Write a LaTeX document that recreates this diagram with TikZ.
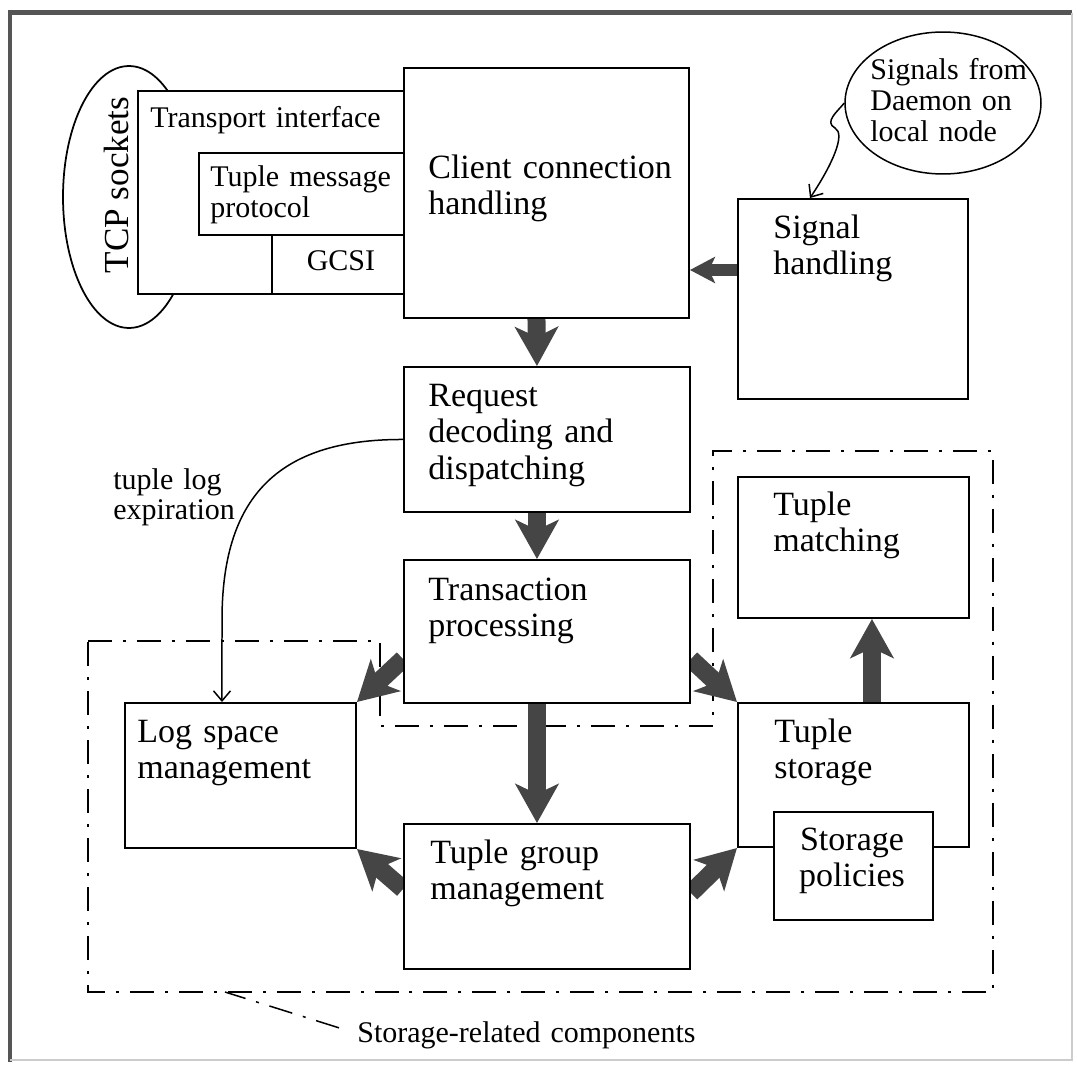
\documentclass[tikz,border=0pt]{standalone}
\usepackage{fontspec}
\setmainfont{Liberation Serif}
\usepackage{tikz}
\usetikzlibrary{
    arrows.meta,
    backgrounds,
    calc,
    positioning,
    shapes.geometric
}
\definecolor{fatgray}{HTML}{454545}
\definecolor{framegray}{HTML}{555555}
\tikzstyle{lnarrow}=[line width=0.03cm,-{Straight Barb[length=0.2cm,width=0.34cm]}]

\begin{document}
\begin{tikzpicture}[
    x=0.02cm, y=-0.02cm,
    blk/.style={
        rectangle,
        draw,
        line width=0.04cm,
        fill=white,
        inner sep=0pt,
        anchor=north west
    },
    lbl/.style={
        font=\fontsize{19.35pt}{21.05pt}\selectfont,
        text width=6cm,
        align=left,
        inner sep=0pt,
        anchor=base west
    },
    slbl/.style={
        lbl,
        font=\fontsize{17.07pt}{17.64pt}\selectfont,
        text width=5cm
    },
    fat/.style={
        draw=fatgray,
        line width=0.36cm,
        -{Stealth[length=0.78cm,width=0.86cm,inset=0.2cm]}
    },
    fatsm/.style={
        fat,
        line width=0.24cm,
        -{Stealth[length=0.5cm,width=0.52cm,inset=0.12cm]}
    },
    region/.style={
        line width=0.03cm,
        dash pattern=on 0.48cm off 0.22cm on 0.06cm off 0.22cm
    }
]
\useasboundingbox (0,0) rectangle (1077,1064);
\draw[line width=0.1cm,framegray] (10,1062) -- (10,13) -- (1072,13);
\draw[line width=0.03cm,black!20] (1072,13) -- (1072,1060) -- (10,1060);

% client side
\node[draw,ellipse,line width=0.035cm,minimum width=2.64cm,minimum height=5.24cm,
    inner sep=0pt] (tcp) at (129,197) {};
\node[rotate=90,inner sep=0pt,font=\fontsize{20pt}{22pt}\selectfont]
    (tcp-t) at (116,185) {TCP sockets};
\node[blk,minimum width=5.32cm,minimum height=4.06cm] (transport) at (137,90) {};
\node[blk,minimum width=4.10cm,minimum height=1.64cm] (tmp) at (198,152) {};
\node[blk,minimum width=2.64cm,minimum height=1.18cm] (gcsi) at (271,234) {};
\node[slbl] (transport-t) at (150,128) {Transport interface};
\node[slbl] (tmp-t) at (210,187) {Tuple message\\protocol};
\node[slbl,text width=2cm,align=center,anchor=base] (gcsi-t) at (341,270) {GCSI};

\node[blk,minimum width=5.70cm,minimum height=5.00cm] (client) at (403,67) {};
\node[lbl] (client-t) at (428,178) {Client connection\\handling};
\node[blk,minimum width=4.60cm,minimum height=4.00cm] (signal) at (737,198) {};
\node[lbl] (signal-t) at (773,238) {Signal\\handling};
\node[draw,ellipse,line width=0.03cm,minimum width=3.92cm,minimum height=2.84cm,
    inner sep=0pt] (sigell) at (943,103) {};
\node[slbl] (sigell-t) at (870,80) {Signals from\\Daemon on\\local node};

% server pipeline
\node[blk,minimum width=5.72cm,minimum height=2.90cm] (request) at (403,366) {};
\node[lbl] (request-t) at (428,406) {Request\\decoding and\\dispatching};
\node[blk,minimum width=5.72cm,minimum height=2.86cm] (trans) at (403,559) {};
\node[lbl] (trans-t) at (428,600) {Transaction\\processing};
\node[blk,minimum width=5.72cm,minimum height=2.90cm] (group) at (403,823) {};
\node[lbl] (group-t) at (430,863) {Tuple group\\management};
\node[blk,minimum width=4.62cm,minimum height=2.90cm] (logsp) at (124,702) {};
\node[lbl] (logsp-t) at (137,742) {Log space\\management};
\node[blk,minimum width=4.62cm,minimum height=2.82cm] (match) at (737,476) {};
\node[lbl] (match-t) at (773,515) {Tuple\\matching};
\node[blk,minimum width=4.62cm,minimum height=2.88cm] (store) at (737,702) {};
\node[lbl] (store-t) at (774,742) {Tuple\\storage};
\node[blk,minimum width=3.18cm,minimum height=2.16cm] (policy) at (773,811) {};
\node[lbl,text width=3cm,align=center,anchor=base] (policy-t) at (852,850)
    {Storage\\policies};
\node[slbl] (tle-t) at (113,489) {tuple log\\expiration};
\node[slbl,text width=8cm] (region-t) at (357,1042) {Storage-related components};

\begin{scope}[on background layer]
\fill[white] (0,0) rectangle (1077,1064);
\draw[region] (88,641) -- (380,641) -- (380,726) -- (713,726) -- (713,451)
    -- (993,451) -- (993,992) -- (88,992) -- cycle;
\draw[fat] ([xshift=-0.2cm]client.south) -- ([xshift=-0.2cm]request.north);
\draw[fat] ([xshift=-0.2cm]request.south) -- ([xshift=-0.2cm]trans.north);
\draw[fat] ([xshift=-0.2cm]trans.south) -- ([xshift=-0.2cm]group.north);
\draw[fat] ([xshift=0.37cm]store.north) -- ([xshift=0.37cm]match.south);
\draw[fatsm] ([yshift=0.58cm]signal.west) -- ([yshift=0.58cm]signal.west -| client.east);
\draw[fat] ([yshift=-0.55cm]trans.west) -- (logsp.north east);
\draw[fat] ([yshift=-0.55cm]trans.east) -- (store.north west);
\draw[fat] ([yshift=0.15cm]group.west) -- (logsp.south east);
\draw[fat] ([yshift=0.07cm]group.east) -- (store.south west);
\end{scope}

\draw[lnarrow] (request.west) .. controls (275,439) and (222,500) .. (222,620)
    -- ([xshift=1.96cm]logsp.north west);
\draw[lnarrow] (sigell.west) .. controls (837,112) and (824,122) .. (835,128)
    .. controls (846,134) and (832,165) .. ([xshift=1.46cm]signal.north west);
\draw[region] ([xshift=-0.36cm,yshift=0.14cm]region-t.west) -- (225,992);
\end{tikzpicture}
\end{document}
